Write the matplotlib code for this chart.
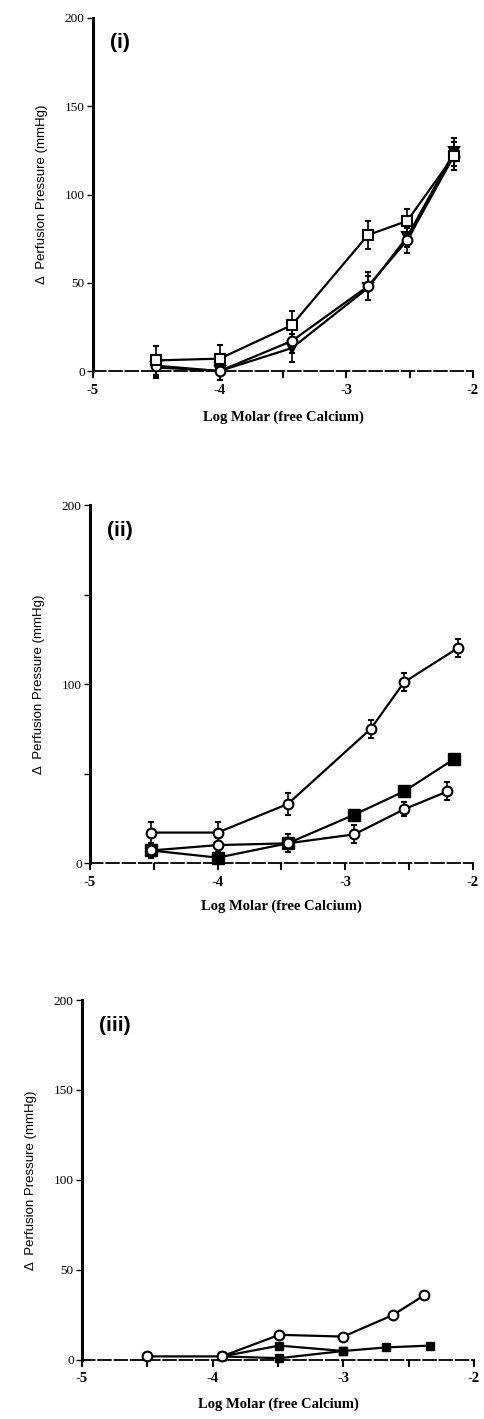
import matplotlib
matplotlib.use("Agg")
import matplotlib.pyplot as plt
from matplotlib.transforms import offset_copy

# ---------------- data ----------------
# Panel (i)
p1_x = [-4.5, -4.0, -3.43, -2.83, -2.52, -2.15]
p1_sq = [6, 7, 26, 77, 85, 122]
p1_sq_err = [8, 8, 8, 8, 7, 8]
p1_ci = [3, 0, 17, 48, 74, 122]
p1_ci_err = [6, 5, 7, 8, 7, 8]
p1_tri = [2, 0, 13, 47, 76, 124]
p1_tri_err = [6, 5, 8, 7, 6, 8]

# Panel (ii)
p2_x_a = [-4.52, -4.0, -3.45, -2.8, -2.54, -2.12]
p2_a = [17, 17, 33, 75, 101, 120]
p2_a_err = [6, 6, 6, 5, 5, 5]
p2_x_b = [-4.52, -4.0, -3.45, -2.93, -2.54, -2.15]
p2_b = [7, 3, 11, 27, 40, 58]
p2_x_c = [-4.52, -4.0, -3.45, -2.93, -2.54, -2.2]
p2_c = [7, 10, 11, 16, 30, 40]
p2_c_err = [4, 4, 5, 5, 4, 5]

# Panel (iii)
p3_x_a = [-4.5, -3.93, -3.49, -3.0, -2.62, -2.38]
p3_a = [2, 2, 14, 13, 25, 36]
p3_x_b = [-3.93, -3.49, -3.0, -2.67, -2.34]
p3_b = [2, 8, 5, 7, 8]
p3_x_c = [-3.93, -3.49, -3.0]
p3_c = [2, 1, 5]

panel_labels = ["(i)", "(ii)", "(iii)"]
xticks = [-5, -4, -3, -2]
xticklabels = ["-5", "-4", "-3", "-2"]
yticks = [0, 50, 100, 150, 200]
yticklabels_full = ["0", "50", "100", "150", "200"]
yticklabels_ii = ["0", "", "100", "", "200"]
xlabel = "Log Molar (free Calcium)"
ylabel = "\u0394  Perfusion Pressure (mmHg)"

# ---------------- figure ----------------
W, H = 484, 1419
fig = plt.figure(figsize=(W / 100, H / 100), dpi=100)

def ax_at(left, top, right, bottom):
    return fig.add_axes([left / W, 1 - bottom / H, (right - left) / W, (bottom - top) / H])

axes = [ax_at(93, 18, 473, 371), ax_at(90, 505, 473, 863), ax_at(82, 1000, 474, 1360)]

serif = "Liberation Serif"

def style(ax, label, ylabels, xlabpad=8):
    ax.set_xlim(-5, -2)
    ax.set_ylim(0, 200)
    for s in ["top", "right"]:
        ax.spines[s].set_visible(False)
    ax.spines["left"].set_linewidth(2.2)
    ax.spines["bottom"].set_linewidth(1.3)
    ax.spines["bottom"].set_linestyle((0, (7, 2)))
    ax.set_xticks(xticks)
    ax.set_xticklabels(xticklabels, fontfamily=serif, fontweight="bold", fontsize=10.5)
    ax.set_xticks([-4.5, -3.5, -2.5], minor=True)
    ax.tick_params(axis="x", which="both", direction="out", length=5, width=1.5, pad=4)
    ax.set_yticks(yticks)
    ax.set_yticklabels(ylabels, fontfamily=serif, fontsize=9.5)
    ax.tick_params(axis="y", direction="out", length=4, width=1.0, pad=2)
    ax.set_xlabel(xlabel, fontfamily=serif, fontweight="bold", fontsize=10.5, labelpad=xlabpad)
    ax.set_ylabel(ylabel, fontfamily="Liberation Sans", fontsize=9.5, labelpad=12)
    tr = offset_copy(ax.transAxes, fig=fig, x=17, y=0, units="dots")
    ax.text(0.0, 0.93, label, transform=tr, fontfamily="Liberation Sans",
            fontweight="bold", fontsize=15, va="center", ha="left")

kw = dict(color="black", lw=1.6, capsize=2.5, elinewidth=1.2, capthick=1.2, markersize=7,
          markeredgewidth=1.5, clip_on=False, zorder=3)

# Panel (i)
ax = axes[0]
style(ax, panel_labels[0], yticklabels_full, xlabpad=10)
ax.errorbar(p1_x, p1_tri, yerr=p1_tri_err, fmt="-v", mfc="black", mec="black", **kw)
ax.errorbar(p1_x, p1_ci, yerr=p1_ci_err, fmt="-o", mfc="white", mec="black", **kw)
ax.errorbar(p1_x, p1_sq, yerr=p1_sq_err, fmt="-s", mfc="white", mec="black", **kw)

# Panel (ii)
ax = axes[1]
style(ax, panel_labels[1], yticklabels_ii)
ax.errorbar(p2_x_a, p2_a, yerr=p2_a_err, fmt="-o", mfc="white", mec="black", **kw)
ax.plot(p2_x_b, p2_b, "-s", color="black", lw=1.6, mfc="black", mec="black", markersize=8,
        clip_on=False, zorder=3)
ax.errorbar(p2_x_c, p2_c, yerr=p2_c_err, fmt="-o", mfc="white", mec="black", **kw)

# Panel (iii)
ax = axes[2]
style(ax, panel_labels[2], yticklabels_full, xlabpad=9)
ax.plot(p3_x_c, p3_c, "-s", color="black", lw=1.6, mfc="black", mec="black", markersize=6,
        clip_on=False, zorder=3)
ax.plot(p3_x_b, p3_b, "-s", color="black", lw=1.6, mfc="black", mec="black", markersize=6,
        clip_on=False, zorder=3)
ax.plot(p3_x_a, p3_a, "-o", color="black", lw=1.6, mfc="white", mec="black", markersize=7,
        markeredgewidth=1.5, clip_on=False, zorder=4)

fig.savefig("out.png", dpi=100, facecolor="white")
